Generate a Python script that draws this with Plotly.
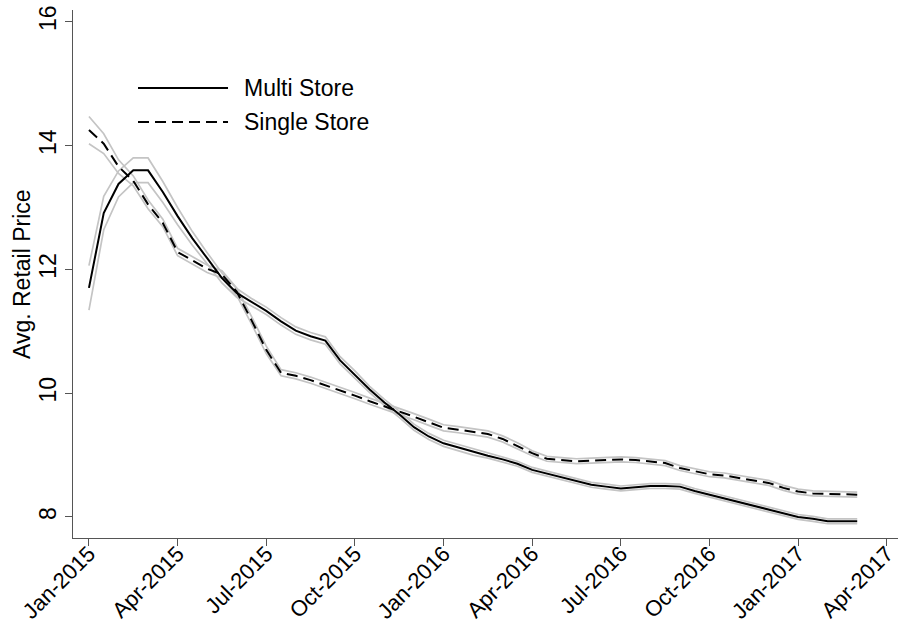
import numpy as np
import plotly.graph_objects as go

# Semi-monthly observations, Jan-2015 (0) through Mar-2017 (26), in months
months = np.arange(53) * 0.5

multi_store = [
    11.70, 12.91, 13.38, 13.60, 13.60, 13.25, 12.86, 12.50, 12.18, 11.86,
    11.62, 11.47, 11.33, 11.16, 11.01, 10.92, 10.85, 10.53, 10.30, 10.06,
    9.85, 9.66, 9.45, 9.30, 9.19, 9.12, 9.05, 8.99, 8.93, 8.86,
    8.76, 8.70, 8.63, 8.57, 8.52, 8.49, 8.46, 8.48, 8.50, 8.50,
    8.49, 8.42, 8.36, 8.31, 8.24, 8.18, 8.12, 8.06, 8.00, 7.97,
    7.93, 7.93, 7.93,
]
multi_ci = [
    0.36, 0.27, 0.21, 0.20, 0.20, 0.17, 0.14, 0.11, 0.09, 0.08,
    0.07, 0.06, 0.06, 0.06, 0.06, 0.06, 0.06, 0.06, 0.06, 0.05,
    0.05, 0.05, 0.05, 0.05, 0.05, 0.05, 0.05, 0.04, 0.04, 0.04,
    0.04, 0.04, 0.04, 0.04, 0.04, 0.04, 0.04, 0.04, 0.04, 0.04,
    0.04, 0.04, 0.04, 0.04, 0.04, 0.04, 0.04, 0.04, 0.04, 0.04,
    0.04, 0.04, 0.04,
]

single_store = [
    14.25, 14.03, 13.66, 13.43, 13.05, 12.75, 12.28, 12.14, 12.01, 11.92,
    11.64, 11.18, 10.70, 10.33, 10.28, 10.21, 10.13, 10.04, 9.96, 9.87,
    9.79, 9.71, 9.62, 9.53, 9.44, 9.41, 9.37, 9.34, 9.26, 9.15,
    9.03, 8.94, 8.92, 8.90, 8.91, 8.92, 8.93, 8.92, 8.90, 8.87,
    8.79, 8.74, 8.69, 8.67, 8.63, 8.59, 8.55, 8.47, 8.41, 8.38,
    8.37, 8.36, 8.36,
]
single_ci = [
    0.22, 0.16, 0.11, 0.08, 0.07, 0.06, 0.06, 0.06, 0.06, 0.06,
    0.06, 0.06, 0.06, 0.05, 0.05, 0.05, 0.05, 0.05, 0.05, 0.05,
    0.05, 0.05, 0.05, 0.05, 0.05, 0.05, 0.05, 0.05, 0.05, 0.05,
    0.04, 0.04, 0.04, 0.04, 0.04, 0.04, 0.04, 0.04, 0.04, 0.04,
    0.04, 0.04, 0.04, 0.04, 0.04, 0.04, 0.04, 0.04, 0.04, 0.04,
    0.04, 0.04, 0.04,
]

tick_months = [0, 3, 6, 9, 12, 15, 18, 21, 24, 27]
tick_labels = ["Jan-2015", "Apr-2015", "Jul-2015", "Oct-2015", "Jan-2016",
               "Apr-2016", "Jul-2016", "Oct-2016", "Jan-2017", "Apr-2017"]
y_ticks = [8, 10, 12, 14, 16]

FONT = "Liberation Sans, Arial, Helvetica, sans-serif"
FS = 23
BAND = "#c4c4c4"
DASH = "11px,6px"

fig = go.Figure()

# confidence bounds drawn first so the point estimates sit on top
for est, ci in [(multi_store, multi_ci), (single_store, single_ci)]:
    est = np.array(est)
    ci = np.array(ci)
    for bound in (est + ci, est - ci):
        fig.add_trace(go.Scatter(
            x=months, y=bound, mode="lines",
            line=dict(color=BAND, width=1.7),
            showlegend=False, hoverinfo="skip",
        ))

fig.add_trace(go.Scatter(
    x=months, y=multi_store, mode="lines", name="Multi Store",
    line=dict(color="black", width=2), showlegend=False,
))
fig.add_trace(go.Scatter(
    x=months, y=single_store, mode="lines", name="Single Store",
    line=dict(color="black", width=2, dash=DASH), showlegend=False,
))

# key in the upper-left corner of the plot area
key_x0, key_x1, key_tx = 0.0788, 0.1879, 0.2048
for yk, label, dash in [(0.8523, "Multi Store", "solid"),
                        (0.7879, "Single Store", DASH)]:
    fig.add_shape(type="line", xref="paper", yref="paper",
                  x0=key_x0, x1=key_x1, y0=yk, y1=yk,
                  line=dict(color="black", width=2, dash=dash))
    fig.add_annotation(xref="paper", yref="paper", x=key_tx, y=yk,
                       text=label, showarrow=False, xanchor="left",
                       yanchor="middle",
                       font=dict(family=FONT, size=FS, color="black"))

# vertical y-axis title
fig.add_annotation(xref="paper", yref="paper", x=-0.0618, y=0.5,
                   text="Avg. Retail Price", textangle=-90, showarrow=False,
                   xanchor="center", yanchor="middle",
                   font=dict(family=FONT, size=FS, color="black"))

fig.update_layout(
    width=898, height=627,
    margin=dict(l=73, r=0, t=10, b=89),
    paper_bgcolor="white", plot_bgcolor="white",
    font=dict(family=FONT, size=FS, color="black"),
)
fig.update_xaxes(
    range=[-0.54, 27.38], tickmode="array", automargin=False,
    tickvals=tick_months, ticktext=tick_labels, tickangle=-45,
    ticklabeloverflow="allow", ticklabelstandoff=-14,
    showgrid=False, zeroline=False,
    showline=True, linecolor="#555555", linewidth=1.2,
    ticks="outside", ticklen=7, tickcolor="#555555", tickwidth=1.2,
    tickfont=dict(family=FONT, size=22, color="black"),
)
fig.update_yaxes(
    range=[7.66, 16.19], tickmode="array", tickvals=y_ticks, automargin=False,
    tickangle=-90, showgrid=False, zeroline=False,
    showline=True, linecolor="#555555", linewidth=1.2,
    ticks="outside", ticklen=7, tickcolor="#555555", tickwidth=1.2,
    tickfont=dict(family=FONT, size=FS, color="black"),
)

fig.write_html("out.html")
